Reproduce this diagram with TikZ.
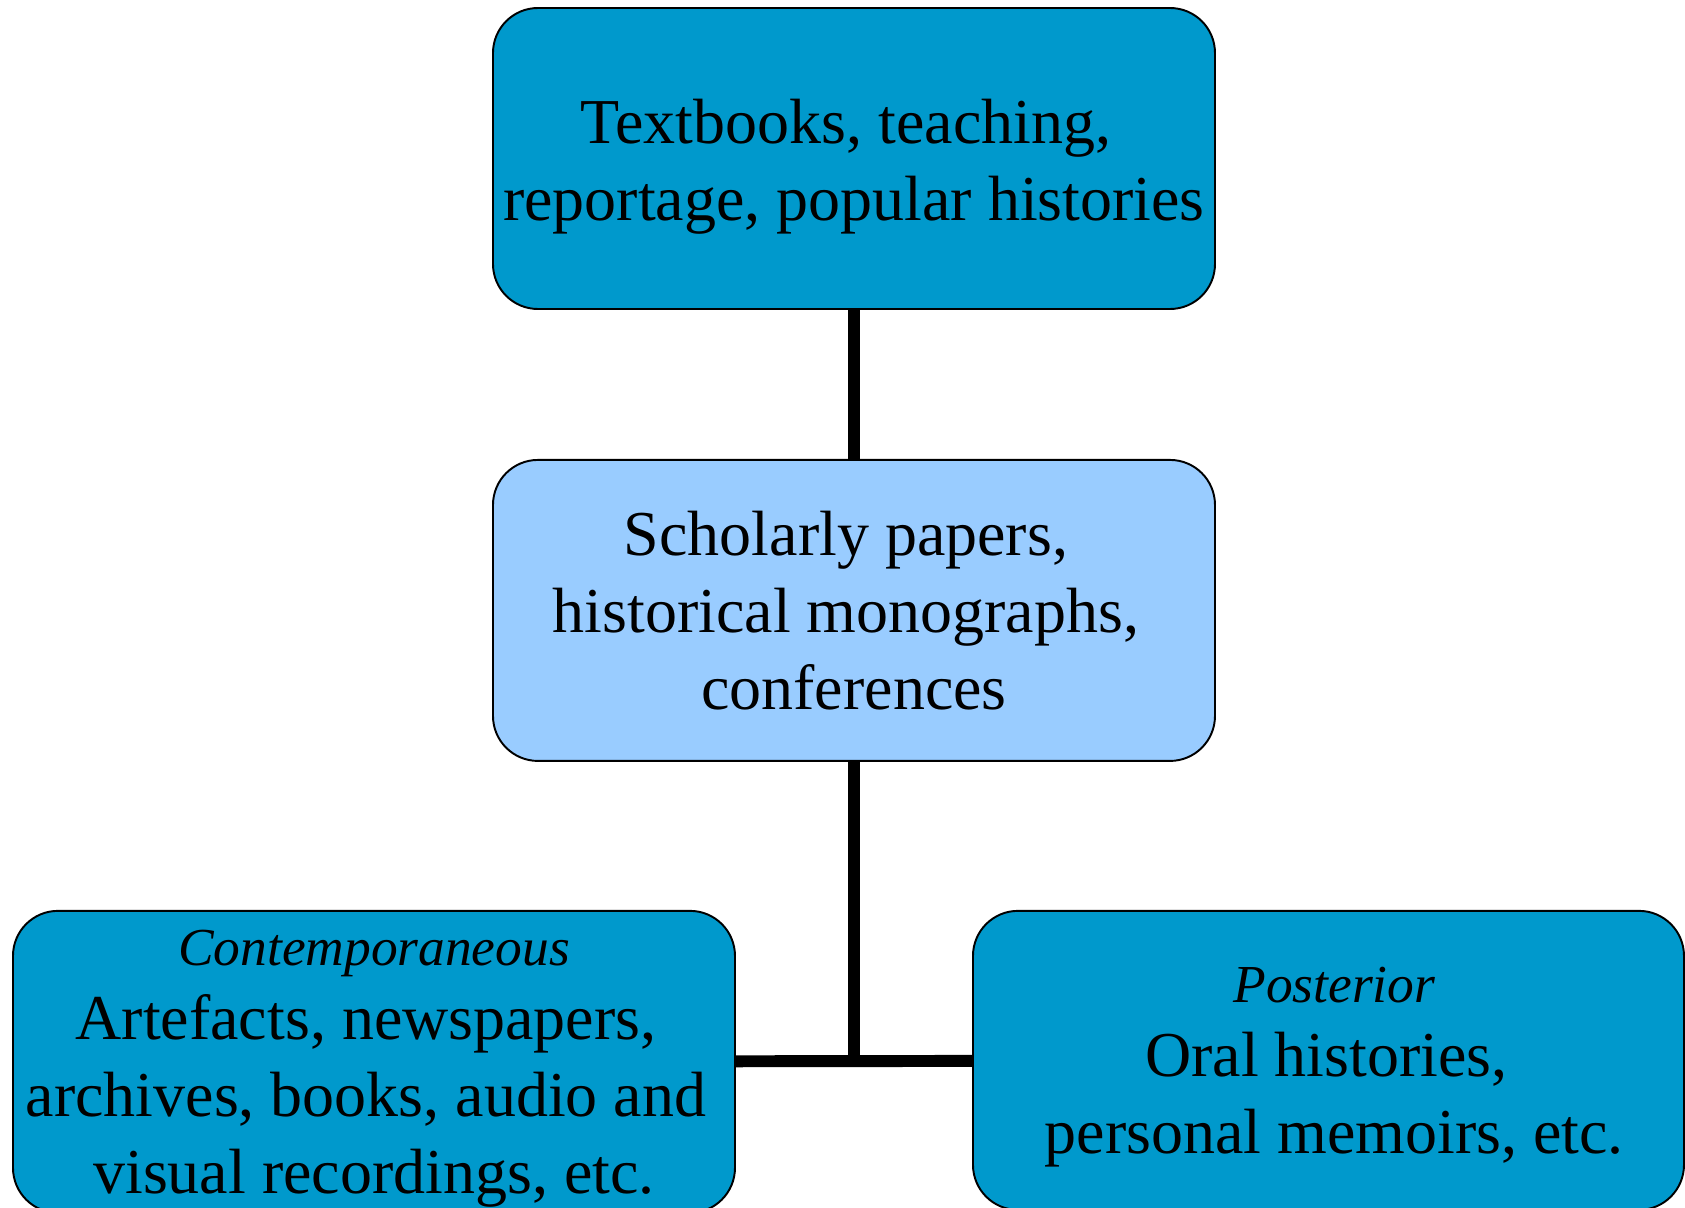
\documentclass[tikz,border=0pt]{standalone}
\usepackage{fontspec}
\setmainfont{Liberation Serif}
\usepackage{tikz}
\usetikzlibrary{positioning}
\usetikzlibrary{calc}
\definecolor{deepblue}{RGB}{0,153,204}
\definecolor{paleblue}{RGB}{153,204,255}
\tikzstyle{block} = [draw, line width=1.1pt, rectangle, rounded corners=0.9cm, minimum height=6.02cm, minimum width=14.44cm, align=center, font=\fontsize{36.4}{43.7}\selectfont]
\tikzstyle{link} = [line width=6.8pt]
\tikzstyle{junction} = [coordinate]
\newcommand{\kind}[1]{\rule{0pt}{28pt}{\fontsize{30.4}{36}\selectfont\itshape #1}}
\newcommand{\trail}{\kern.25em\hbox{}}
\newcommand{\lead}{\hbox{}\kern.236cm}

\begin{document}
\begin{tikzpicture}[auto,node distance=2.98cm]
    \useasboundingbox (-17.08,3.17) rectangle ++(33.7,-24.16);
    \node [block, fill=deepblue] (popular) at (0,0) {\rule{0pt}{35pt}Textbooks, teaching,\trail\\reportage, popular histories};
    \node [block, fill=paleblue, below=of popular] (scholarly) {Scholarly papers,\trail\\historical monographs,\trail\\conferences};
    \node [block, fill=deepblue, anchor=north west, minimum height=5.98cm] (contemp) at ($(scholarly.south west)+(-9.6,-2.96)$) {\kind{Contemporaneous}\\[-1.8pt]Artefacts, newspapers,\trail\\archives, books, audio and\trail\\visual recordings, etc.};
    \node [block, fill=deepblue, anchor=north west, minimum height=5.98cm, minimum width=14.22cm] (posterior) at ($(scholarly.south west)+(9.6,-2.96)$) {\lead\kind{Posterior}\\[-1.8pt]\lead Oral histories,\trail\\\lead personal memoirs, etc.};
    \node [junction] (join) at (contemp.east -| scholarly.south) {};

    \draw [link] (popular) -- (scholarly.north);
    \draw [link] (scholarly) -- (join);
    \draw [link] (contemp) -- (posterior);
\end{tikzpicture}
\end{document}
